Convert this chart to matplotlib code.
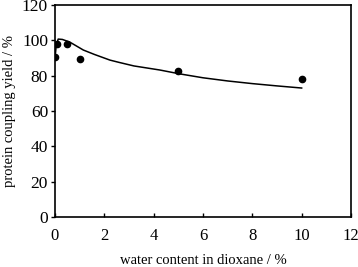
import matplotlib
matplotlib.use("Agg")
import matplotlib.pyplot as plt

plt.rcParams['font.family'] = ['Liberation Serif', 'DejaVu Serif']

# measured points
water = [0, 0.1, 0.5, 1, 5, 10]
yield_pct = [90.5, 98, 98, 89.7, 82.6, 78.2]

# fitted curve
fit_x = [0, 0.05, 0.13, 0.3, 0.6, 1.15, 1.6, 2.23, 2.6, 3.2, 4.25, 5.06, 6, 7, 8, 9, 10]
fit_y = [90, 97, 100.7, 100.5, 99, 94.5, 92, 88.8, 87.5, 85.5, 83.2, 81, 78.8, 77, 75.5, 74.2, 73]

fig = plt.figure(figsize=(3.58, 2.67), dpi=100)
ax = fig.add_axes([0.1536, 0.1873, 0.8268, 0.794])

ax.plot(fit_x, fit_y, color='black', lw=1.1)
ax.plot(water, yield_pct, 'o', color='black', ms=4.5)

ax.set_xlim(0, 12)
ax.set_ylim(0, 120)
ax.set_xticks(range(0, 13, 2))
ax.set_yticks(range(0, 121, 20))
ax.tick_params(axis='x', direction='in', length=3, width=1, labelsize=12, pad=8)
ax.tick_params(axis='y', direction='out', length=3, width=1, labelsize=12.5, pad=2)
for s in ax.spines.values():
    s.set_linewidth(1.2)

ax.set_xlabel('water content in dioxane / %', fontsize=10.5, labelpad=7)
ax.set_ylabel('protein coupling yield / %', fontsize=10.5, labelpad=4)

fig.savefig('out.png', dpi=100)
